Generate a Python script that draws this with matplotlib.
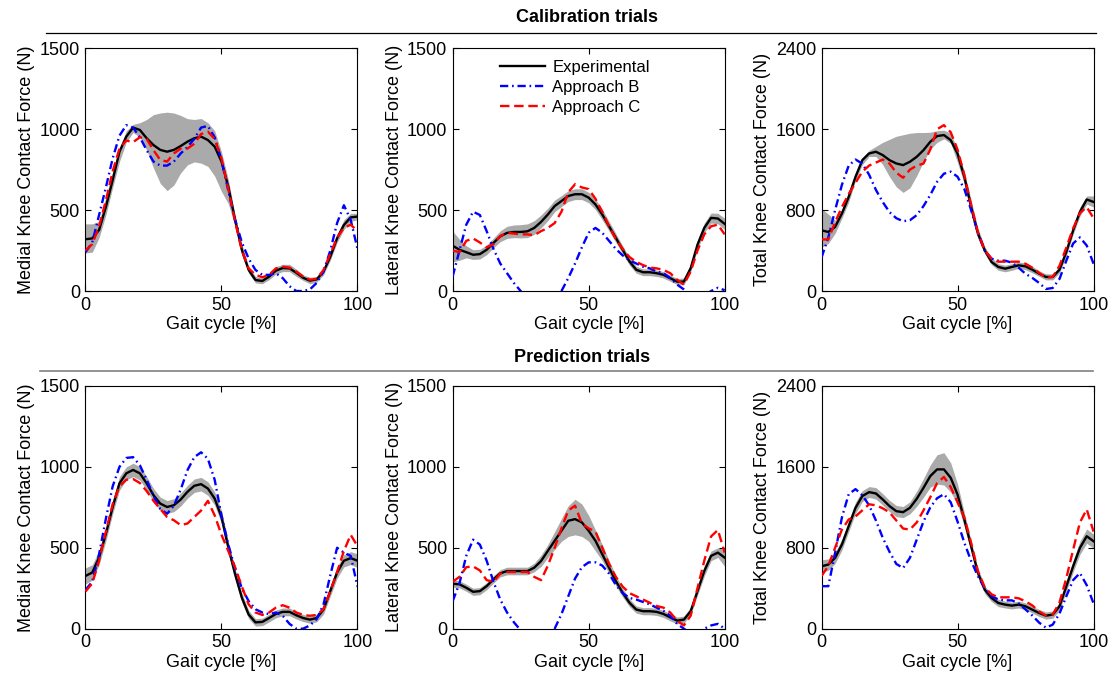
import matplotlib
matplotlib.use('Agg')
import matplotlib.pyplot as plt
from matplotlib.lines import Line2D
import numpy as np

plt.rcParams['font.family'] = ['Liberation Sans', 'DejaVu Sans']

# gait cycle samples (%), every 2.5 %
gait = np.arange(0, 100.1, 2.5)

# ---- Calibration trials ----
cal_med_exp = [320, 325, 377, 520, 686, 861, 954, 1010, 995, 944, 902, 872, 861, 872, 896, 923,
               944, 954, 933, 892, 800, 645, 439, 253, 130, 68, 62, 89, 126, 142, 140, 113,
               82, 64, 72, 120, 212, 326, 408, 455, 460]
cal_med_b = [240, 300, 470, 640, 820, 960, 1025, 1010, 950, 870, 800, 775, 775, 800, 850, 890,
             940, 1010, 1020, 950, 810, 620, 440, 300, 200, 130, 100, 100, 110, 80, 30, 0,
             0, 10, 50, 120, 250, 420, 530, 440, 260]
cal_med_c = [250, 290, 400, 560, 740, 880, 930, 920, 950, 940, 870, 810, 800, 850, 880, 880,
             910, 970, 985, 940, 820, 630, 430, 250, 140, 100, 85, 100, 140, 150, 145, 120,
             90, 70, 75, 130, 230, 330, 390, 410, 370]
cal_med_hi = [415, 415, 430, 580, 740, 880, 990, 1030, 1040, 1060, 1090, 1100, 1105, 1100, 1085, 1065,
              1060, 1066, 1040, 990, 860, 690, 470, 290, 150, 90, 80, 110, 150, 165, 165, 135,
              100, 85, 90, 140, 240, 350, 440, 480, 480]
cal_med_lo = [235, 240, 330, 470, 640, 800, 920, 980, 950, 870, 760, 665, 620, 655, 730, 780,
              798, 790, 770, 710, 615, 540, 400, 220, 110, 50, 45, 70, 105, 120, 120, 90,
              65, 45, 55, 100, 190, 300, 380, 430, 440]

cal_lat_exp = [280, 255, 240, 224, 228, 255, 297, 338, 359, 365, 365, 369, 390, 427, 473, 525,
               556, 587, 598, 598, 577, 535, 473, 400, 328, 255, 183, 131, 116, 116, 110, 100,
               79, 58, 58, 141, 286, 390, 452, 448, 415]
cal_lat_b = [90, 250, 410, 490, 470, 370, 260, 170, 110, 50, 0, -60, -120, -150, -130, -70,
             0, 80, 170, 270, 360, 390, 360, 310, 260, 220, 190, 170, 150, 140, 120, 110,
             80, 40, 10, -30, -50, -30, 0, 20, 5]
cal_lat_c = [250, 240, 310, 325, 300, 270, 290, 340, 360, 355, 350, 350, 345, 370, 390, 420,
             490, 610, 660, 640, 630, 570, 490, 400, 320, 260, 210, 180, 160, 145, 140, 130,
             110, 70, 40, 120, 250, 350, 400, 410, 350]
cal_lat_hi = [370, 320, 280, 255, 258, 285, 327, 372, 400, 408, 410, 415, 435, 470, 512, 562,
              590, 620, 632, 632, 610, 568, 505, 430, 355, 280, 205, 152, 137, 137, 130, 120,
              98, 78, 80, 165, 315, 420, 482, 480, 450]
cal_lat_lo = [180, 190, 205, 195, 198, 225, 267, 305, 325, 330, 328, 330, 350, 390, 435, 490,
              522, 553, 565, 565, 545, 503, 440, 370, 300, 230, 160, 110, 95, 95, 90, 80,
              60, 40, 38, 118, 257, 360, 420, 415, 380]

cal_tot_exp = [600, 584, 634, 766, 931, 1129, 1294, 1360, 1377, 1344, 1294, 1261, 1245, 1278, 1327, 1393,
               1476, 1532, 1542, 1492, 1360, 1129, 832, 568, 403, 287, 238, 221, 238, 254, 244, 211,
               172, 139, 139, 211, 386, 600, 782, 905, 881]
cal_tot_b = [330, 530, 800, 1050, 1240, 1300, 1260, 1150, 1000, 880, 780, 720, 690, 700, 750, 840,
             950, 1080, 1160, 1180, 1130, 1010, 800, 580, 400, 320, 300, 300, 280, 230, 170, 130,
             80, 20, 30, 120, 300, 470, 530, 450, 270]
cal_tot_c = [510, 510, 680, 830, 960, 1070, 1180, 1240, 1270, 1300, 1260, 1170, 1120, 1200, 1240, 1260,
             1400, 1600, 1640, 1570, 1400, 1150, 850, 580, 400, 320, 290, 290, 290, 290, 270, 230,
             180, 130, 140, 250, 430, 620, 770, 830, 720]
cal_tot_hi = [815, 760, 700, 810, 980, 1170, 1320, 1390, 1430, 1470, 1500, 1530, 1545, 1560, 1567, 1567,
              1570, 1585, 1590, 1560, 1400, 1180, 900, 620, 440, 330, 270, 255, 270, 285, 280, 245,
              200, 170, 170, 245, 420, 640, 830, 940, 940]
cal_tot_lo = [430, 470, 570, 720, 880, 1090, 1250, 1330, 1330, 1250, 1130, 1030, 975, 1020, 1140, 1280,
              1400, 1470, 1505, 1460, 1270, 1060, 760, 520, 370, 260, 205, 190, 205, 225, 210, 180,
              145, 110, 110, 180, 350, 560, 740, 860, 830]

# ---- Prediction trials ----
pre_med_exp = [326, 347, 440, 586, 752, 898, 960, 981, 960, 898, 825, 773, 752, 763, 798, 846,
               883, 893, 866, 804, 690, 503, 337, 191, 87, 39, 42, 66, 91, 104, 104, 83,
               66, 56, 66, 118, 233, 347, 420, 436, 420]
pre_med_b = [240, 290, 460, 680, 880, 1000, 1055, 1060, 1010, 920, 820, 740, 710, 760, 860, 980,
             1060, 1090, 1050, 920, 700, 520, 370, 250, 170, 120, 100, 90, 100, 80, 30, 0,
             0, 20, 60, 150, 330, 500, 470, 450, 260]
pre_med_c = [230, 280, 420, 600, 770, 880, 920, 925, 900, 850, 790, 740, 690, 670, 640, 650,
             690, 730, 790, 700, 580, 480, 380, 260, 150, 100, 85, 100, 130, 145, 130, 100,
             85, 80, 85, 120, 230, 350, 480, 580, 510]
pre_med_hi = [376, 395, 485, 630, 795, 940, 1000, 1022, 1002, 940, 866, 813, 792, 803, 838, 886,
              925, 935, 908, 845, 730, 540, 370, 220, 112, 62, 65, 90, 115, 128, 128, 106,
              88, 78, 90, 145, 265, 382, 458, 476, 462]
pre_med_lo = [276, 300, 395, 542, 710, 856, 920, 940, 918, 856, 784, 733, 712, 723, 758, 806,
              842, 851, 824, 763, 650, 466, 304, 162, 62, 16, 19, 42, 67, 80, 80, 60,
              44, 34, 42, 90, 200, 312, 382, 396, 378]

pre_lat_exp = [278, 274, 253, 228, 232, 263, 305, 342, 356, 356, 356, 356, 377, 418, 481, 543,
               605, 667, 677, 657, 605, 543, 460, 377, 294, 222, 160, 118, 108, 108, 104, 91,
               70, 50, 56, 108, 232, 356, 450, 470, 439]
pre_lat_b = [170, 280, 450, 550, 520, 420, 290, 180, 100, 40, -10, -80, -140, -140, -80, 0,
             90, 200, 310, 380, 410, 410, 390, 340, 270, 220, 190, 180, 165, 150, 130, 110,
             80, 30, 0, -30, -30, 0, 20, 30, 0]
pre_lat_c = [290, 320, 380, 385, 360, 300, 290, 340, 350, 350, 350, 350, 320, 300, 390, 500,
             620, 730, 760, 650, 620, 600, 500, 400, 320, 260, 220, 200, 180, 160, 140, 130,
             100, 50, 20, 80, 250, 420, 570, 610, 470]
pre_lat_hi = [300, 296, 275, 250, 254, 285, 328, 365, 380, 380, 380, 380, 405, 455, 520, 600,
              680, 760, 800, 770, 700, 610, 520, 420, 330, 248, 185, 140, 130, 130, 126, 113,
              92, 72, 78, 132, 262, 390, 480, 500, 490]
pre_lat_lo = [256, 252, 231, 206, 210, 241, 282, 320, 333, 333, 333, 333, 352, 385, 440, 490,
              540, 570, 580, 570, 540, 480, 420, 340, 265, 196, 136, 96, 86, 86, 82, 69,
              48, 30, 34, 85, 205, 325, 420, 440, 385]

pre_tot_exp = [617, 634, 700, 832, 1014, 1195, 1311, 1350, 1337, 1278, 1212, 1162, 1152, 1195, 1284, 1393,
               1509, 1575, 1575, 1492, 1327, 1080, 815, 551, 386, 304, 254, 238, 228, 238, 221, 188,
               155, 129, 139, 221, 419, 617, 799, 914, 865]
pre_tot_b = [420, 420, 750, 1100, 1330, 1380, 1320, 1220, 1070, 900, 760, 640, 600, 700, 880, 1060,
             1200, 1290, 1330, 1250, 1060, 850, 670, 520, 400, 320, 290, 280, 280, 250, 190, 130,
             60, 10, 40, 150, 320, 480, 550, 430, 250]
pre_tot_c = [520, 620, 800, 980, 1080, 1110, 1170, 1230, 1220, 1190, 1150, 1070, 990, 980, 1050, 1170,
             1300, 1440, 1500, 1400, 1250, 1100, 850, 570, 410, 340, 310, 310, 310, 300, 270, 230,
             170, 130, 140, 260, 500, 780, 1050, 1180, 960]
pre_tot_hi = [680, 690, 755, 885, 1068, 1250, 1365, 1405, 1395, 1335, 1268, 1218, 1208, 1255, 1360, 1485,
              1620, 1720, 1740, 1640, 1430, 1150, 870, 595, 425, 340, 290, 272, 262, 272, 255, 222,
              190, 165, 175, 262, 470, 675, 865, 985, 935]
pre_tot_lo = [555, 578, 645, 778, 960, 1140, 1258, 1298, 1282, 1222, 1158, 1108, 1098, 1135, 1210, 1300,
              1400, 1430, 1420, 1350, 1230, 1010, 760, 505, 348, 268, 218, 205, 195, 205, 188, 155,
              120, 95, 103, 180, 370, 560, 735, 845, 795]

ylabels = ['Medial Knee Contact Force (N)', 'Lateral Knee Contact Force (N)',
           'Total Knee Contact Force (N)']
yticks_list = [[0, 500, 1000, 1500], [0, 500, 1000, 1500], [0, 800, 1600, 2400]]
legend_labels = ['Experimental', 'Approach B', 'Approach C']

panels = [
    [(cal_med_exp, cal_med_b, cal_med_c, cal_med_lo, cal_med_hi),
     (cal_lat_exp, cal_lat_b, cal_lat_c, cal_lat_lo, cal_lat_hi),
     (cal_tot_exp, cal_tot_b, cal_tot_c, cal_tot_lo, cal_tot_hi)],
    [(pre_med_exp, pre_med_b, pre_med_c, pre_med_lo, pre_med_hi),
     (pre_lat_exp, pre_lat_b, pre_lat_c, pre_lat_lo, pre_lat_hi),
     (pre_tot_exp, pre_tot_b, pre_tot_c, pre_tot_lo, pre_tot_hi)],
]

fig = plt.figure(figsize=(11.13, 6.79), dpi=100)

lefts = [0.0768, 0.4067, 0.7381]
bottoms = [0.5714, 0.0741]
w, h = 0.2444, 0.3575

for r in range(2):
    for c in range(3):
        ax = fig.add_axes([lefts[c], bottoms[r], w, h])
        exp, b, cc, lo, hi = panels[r][c]
        ax.fill_between(gait, lo, hi, color='#aaaaaa', lw=0, zorder=1)
        l1, = ax.plot(gait, exp, color='black', lw=1.7, zorder=3)
        l2, = ax.plot(gait, b, color='#0000ff', lw=1.7, dashes=(3.5, 1.6, 0.7, 1.6), zorder=4)
        l3, = ax.plot(gait, cc, color='#ff0000', lw=1.7, dashes=(4, 2), zorder=5)
        ax.set_xlim(0, 100)
        yt = yticks_list[c]
        ax.set_ylim(yt[0], yt[-1])
        ax.set_yticks(yt)
        ax.set_xticks([0, 50, 100])
        ax.tick_params(direction='in', top=True, right=True, length=4, width=0.8,
                       labelsize=13, pad=4)
        ax.set_xlabel('Gait cycle [%]', fontsize=13, labelpad=2)
        ax.set_ylabel(ylabels[c], fontsize=13, labelpad=3)
        for s in ax.spines.values():
            s.set_linewidth(0.8)
        if r == 0 and c == 1:
            ax.legend([l1, l2, l3], legend_labels, loc='upper center',
                      bbox_to_anchor=(0.45, 1.0), frameon=False, fontsize=12,
                      handlelength=2.7, handletextpad=0.4, labelspacing=0.3,
                      borderaxespad=0.3)

# section headings with separator lines
fig.text(587 / 1113, 1 - 18 / 679, 'Calibration trials', ha='center', va='center',
         fontsize=13, fontweight='bold')
fig.add_artist(Line2D([46 / 1113, 1096 / 1113], [1 - 33 / 679, 1 - 33 / 679],
                      color='black', lw=0.9, transform=fig.transFigure))
fig.text(582 / 1113, 1 - 357 / 679, 'Prediction trials', ha='center', va='center',
         fontsize=13, fontweight='bold')
fig.add_artist(Line2D([40 / 1113, 1093 / 1113], [1 - 371 / 679, 1 - 371 / 679],
                      color='#808080', lw=1.2, transform=fig.transFigure))

fig.savefig('out.png', dpi=100)
